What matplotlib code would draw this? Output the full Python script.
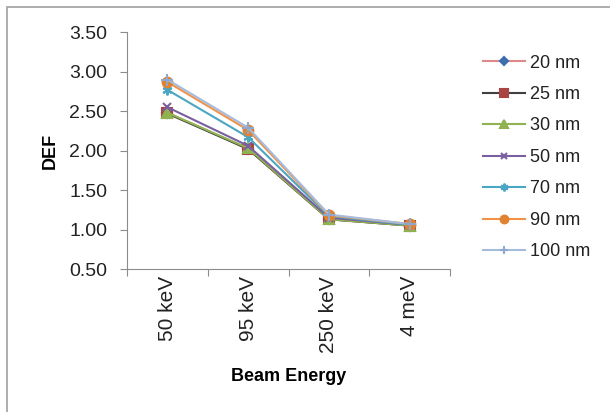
import numpy as np
import matplotlib.pyplot as plt
from matplotlib.patches import Rectangle

plt.rcParams['font.family'] = ['Liberation Sans', 'DejaVu Sans']
plt.rcParams['text.color'] = '#222222'
plt.rcParams['xtick.labelcolor'] = '#222222'
plt.rcParams['ytick.labelcolor'] = '#222222'

# Categorias de energia del haz y valores de DEF por tamano de particula
energias = ['50 keV', '95 keV', '250 keV', '4 meV']
tamanos = ['20 nm', '25 nm', '30 nm', '50 nm', '70 nm', '90 nm', '100 nm']
def_20 = [2.48, 2.02, 1.13, 1.05]
def_25 = [2.47, 2.02, 1.13, 1.05]
def_30 = [2.48, 2.03, 1.13, 1.05]
def_50 = [2.55, 2.06, 1.15, 1.06]
def_70 = [2.77, 2.17, 1.17, 1.06]
def_90 = [2.87, 2.26, 1.18, 1.07]
def_100 = [2.90, 2.29, 1.19, 1.07]
series = [def_20, def_25, def_30, def_50, def_70, def_90, def_100]

# estilo de cada serie: color de linea, marcador, color de marcador, tamano
estilos = [
   ('#DE8A8A', 'D', '#3C6EAE', 5),
   ('#404040', 's', '#A94442', 6.5),
   ('#8FB350', '^', '#8FB350', 7),
   ('#7A5FA0', 'x', '#7A5FA0', 6),
   ('#4AA6C2', (6, 2, 0), '#4AA6C2', 7),
   ('#F0924A', 'o', '#E0822F', 7),
   ('#A6BCDC', '+', '#8FA8CF', 8),
]

fig = plt.figure(figsize=(6.1, 4.12), dpi=100)
ax = fig.add_axes([0.208, 0.347, 0.530, 0.575])

x = np.arange(len(energias))
for vals, nombre, (lc, mk, mc, ms) in zip(series, tamanos, estilos):
   ax.plot(x, vals, color=lc, lw=1.5, marker=mk, markersize=ms,
           markerfacecolor=mc, markeredgecolor=mc, markeredgewidth=1.5,
           label=nombre)

# ejes
ax.set_xlim(-0.5, len(energias) - 0.5)
ax.set_ylim(0.5, 3.5)
ax.set_yticks(np.arange(0.5, 3.51, 0.5))
ax.set_yticklabels(['%.2f' % v for v in np.arange(0.5, 3.51, 0.5)], fontsize=14)
ax.set_xticks(np.arange(-0.5, len(energias), 1.0))
ax.set_xticklabels([])
ax.set_xticks(x, minor=True)
ax.set_xticklabels(energias, minor=True, rotation=90, fontsize=15)
ax.tick_params(axis='x', which='minor', length=0, pad=5)
ax.tick_params(axis='x', which='major', length=5, color='#8c8c8c')
ax.tick_params(axis='y', length=5, color='#8c8c8c', pad=9)
for lado in ['top', 'right']:
   ax.spines[lado].set_visible(False)
for lado in ['left', 'bottom']:
   ax.spines[lado].set_color('#8c8c8c')

ax.set_xlabel('Beam Energy', fontsize=13, fontweight='bold', labelpad=11)
ax.set_ylabel('DEF', fontsize=13, fontweight='bold', labelpad=8)

ax.legend(loc='upper left', bbox_to_anchor=(0.78, 0.885), bbox_transform=fig.transFigure,
          frameon=False, fontsize=13, handlelength=2.3, labelspacing=0.8,
          handletextpad=0.3, borderaxespad=0, markerscale=0.8)

# marco exterior del grafico
fig.patches.append(Rectangle((7 / 610, -0.1), 1.2, 1 - 6.5 / 412 + 0.1,
                             transform=fig.transFigure, fill=False,
                             edgecolor='#a0a0a0', lw=1.2))

fig.savefig('out.png', dpi=100)
